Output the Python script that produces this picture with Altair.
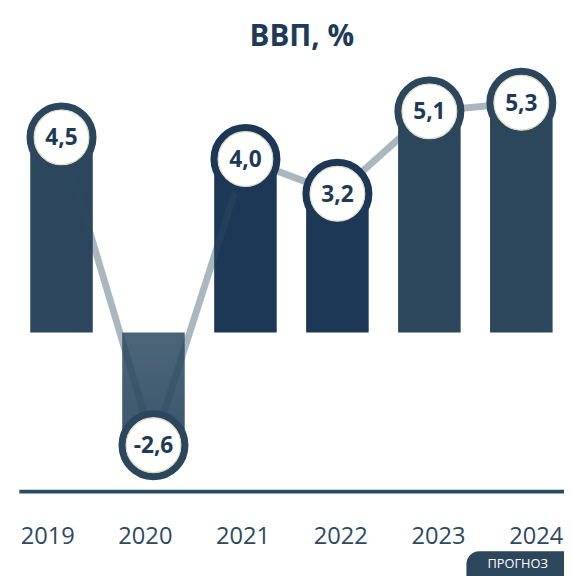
import altair as alt
import pandas as pd

# ---- data ----
years = ["2019", "2020", "2021", "2022", "2023", "2024"]
values = [4.5, -2.6, 4.0, 3.2, 5.1, 5.3]
bar_colors = ["#2c475d", "#2c475d", "#1d3757", "#1d3757", "#2c465c", "#2c465c"]
title_text = "ВВП, %"
badge_text = "ПРОГНОЗ"

df = pd.DataFrame({"year": years, "value": values, "color": bar_colors})
df["label"] = df["value"].map(lambda v: f"{v:.1f}".replace(".", ","))

W, H = 553, 438
FONT = "Open Sans"

yscale = alt.Scale(domain=[-3.66, 6.3], nice=False, zero=False)
xband = alt.Scale(domain=years, paddingInner=0.32, paddingOuter=0.124)
x_bar = alt.X("year:N", scale=xband, axis=None)
y_val = alt.Y("value:Q", scale=yscale, axis=None)

base = alt.Chart(df)

bars_pos = base.transform_filter("datum.value >= 0").mark_bar().encode(
    x=x_bar, y=y_val, color=alt.Color("color:N", scale=None)
)

bar_neg = base.transform_filter("datum.value < 0").mark_bar(
    color={
        "gradient": "linear", "x1": 0, "x2": 0, "y1": 0, "y2": 1,
        "stops": [{"offset": 0, "color": "#4c6579"}, {"offset": 1, "color": "#3b566c"}],
    }
).encode(x=x_bar, y=y_val)

line = base.mark_line(color="#2c4a60", opacity=0.4, strokeWidth=7).encode(
    x=x_bar, y=y_val
)

ring = base.mark_circle(fill="white", size=4030, strokeWidth=7.5, opacity=1).encode(
    x=x_bar, y=y_val, stroke=alt.Stroke("color:N", scale=None)
)

inner = base.mark_circle(
    fill="white", stroke="#dcd8c2", strokeWidth=1.2, size=3080, opacity=1
).encode(x=x_bar, y=y_val)

txt = base.mark_text(
    font=FONT, fontWeight="bold", fontSize=23, color="#1f3a57", baseline="middle", dy=1
).encode(x=x_bar, y=y_val, text="label:N")

xlab = alt.Scale(type="point", domain=years, padding=0.29)
axis_layer = base.mark_point(opacity=0).encode(
    x=alt.X(
        "year:N",
        scale=xlab,
        axis=alt.Axis(
            orient="bottom", title=None, ticks=False, tickSize=0,
            domainColor="#2c4a60", domainWidth=4,
            labelFont=FONT, labelFontSize=24, labelColor="#2c4a60",
            labelPadding=34, labelAngle=0, labelFontWeight=500, grid=False,
        ),
    ),
    y=y_val,
)

tdf = pd.DataFrame({"t": [title_text]})
title = alt.Chart(tdf).mark_text(
    font=FONT, fontSize=30, fontWeight="bold", color="#1e3a57",
    baseline="alphabetic", align="center",
).encode(x=alt.value(287), y=alt.value(-14), text="t:N")

bdf = pd.DataFrame({"t": [badge_text]})
badge = alt.Chart(bdf).mark_rect(color="#2c465c", cornerRadius=13).encode(
    x=alt.value(454), x2=alt.value(600), y=alt.value(499), y2=alt.value(540)
)
badge_txt = alt.Chart(bdf).mark_text(
    font=FONT, fontSize=13, fontWeight="normal", color="white", baseline="middle", align="center"
).encode(x=alt.value(506), y=alt.value(512), text="t:N")

chart = alt.layer(
    alt.layer(bars_pos, bar_neg, line, ring, inner, txt),
    axis_layer, title, badge, badge_txt,
).resolve_scale(x="independent").properties(
    width=W, height=H,
    padding={"left": 11, "top": 48, "right": 0, "bottom": 82},
    autosize=alt.AutoSizeParams(type="none"),
).configure_view(stroke=None)

chart.save("out.html", embed_options={"renderer": "svg", "actions": False})
